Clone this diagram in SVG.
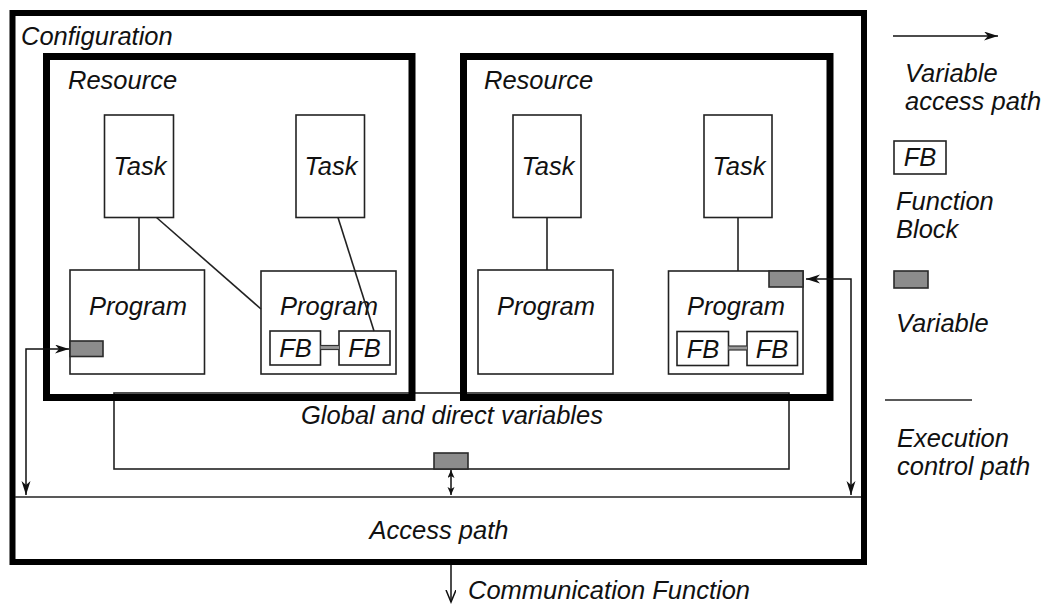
<svg xmlns="http://www.w3.org/2000/svg" width="1043" height="604" viewBox="0 0 1043 604">
<style>
text{font-family:"Liberation Sans",Arial,sans-serif;font-style:italic;font-size:25.5px;fill:#111}
.mid{text-anchor:middle}
.thick{fill:none;stroke:#000}
.box{fill:#fff;stroke:#222;stroke-width:1.6}
.var{fill:#8c8c8c;stroke:#2a2a2a;stroke-width:1.6}
.line{fill:none;stroke:#222;stroke-width:1.6}
.arr{fill:none;stroke:#111;stroke-width:1.5}
</style>
<defs>
<marker id="barb" markerUnits="userSpaceOnUse" markerWidth="16" markerHeight="12" refX="14" refY="4.5" orient="auto-start-reverse">
<path d="M0,0 L14,4.5 L0,9 L4,4.5 Z" fill="#111"/>
</marker>
<marker id="small" markerUnits="userSpaceOnUse" markerWidth="10" markerHeight="8" refX="8" refY="3.5" orient="auto-start-reverse">
<path d="M0,0 L8,3.5 L0,7 L2,3.5 Z" fill="#111"/>
</marker>
<marker id="open" markerUnits="userSpaceOnUse" markerWidth="14" markerHeight="12" refX="12" refY="5" orient="auto">
<path d="M0,0 L12,5 L0,10" fill="none" stroke="#111" stroke-width="1.5"/>
</marker>
</defs>

<g id="configuration">
<rect class="thick" x="12.5" y="13" width="851.5" height="549" stroke-width="6"/>
<text x="21" y="45">Configuration</text>
</g>

<g id="global-variables">
<rect class="box" x="114" y="393" width="675" height="76"/>
<text class="mid" x="452" y="424">Global and direct variables</text>
</g>

<g id="resource-1">
<rect class="thick" x="46.5" y="56.5" width="365.5" height="341" stroke-width="7"/>
<text x="68" y="89">Resource</text>
</g>

<g id="resource-2">
<rect class="thick" x="463.5" y="56.5" width="366.5" height="341" stroke-width="7"/>
<text x="484" y="89">Resource</text>
</g>

<g id="access-path">
<line class="line" x1="15" y1="497" x2="861" y2="497"/>
<text class="mid" x="439" y="539">Access path</text>
</g>

<g id="r1-task-1">
<rect class="box" x="104.5" y="115" width="69" height="102.5"/>
<text class="mid" x="140" y="175">Task</text>
</g>
<g id="r1-task-2">
<rect class="box" x="296" y="115" width="68.5" height="102.5"/>
<text class="mid" x="331" y="175">Task</text>
</g>
<g id="r2-task-1">
<rect class="box" x="513" y="115" width="68" height="102.5"/>
<text class="mid" x="548" y="175">Task</text>
</g>
<g id="r2-task-2">
<rect class="box" x="704" y="115" width="68" height="102.5"/>
<text class="mid" x="739" y="175">Task</text>
</g>

<g id="r1-program-1">
<rect class="box" x="70" y="270" width="134.5" height="104"/>
<text class="mid" x="138" y="315">Program</text>
</g>
<g id="r1-program-1-var">
<rect class="var" x="70" y="341" width="33" height="15.5"/>
</g>

<g id="r1-program-2">
<rect class="box" x="261" y="271" width="135" height="103"/>
<text class="mid" x="329" y="315">Program</text>
</g>
<g id="r1-fb-1">
<rect class="box" x="270" y="331" width="50.5" height="34"/>
<text class="mid" x="295.5" y="357">FB</text>
</g>
<g id="r1-fb-2">
<rect class="box" x="339" y="331" width="51" height="34"/>
<text class="mid" x="364.5" y="357">FB</text>
</g>

<g id="r2-program-1">
<rect class="box" x="478" y="270" width="135" height="104"/>
<text class="mid" x="546" y="315">Program</text>
</g>

<g id="r2-program-2">
<rect class="box" x="668.5" y="271" width="134.5" height="103"/>
<text class="mid" x="736" y="315">Program</text>
</g>
<g id="r2-program-2-var">
<rect class="var" x="769" y="271" width="34" height="16"/>
</g>
<g id="r2-fb-1">
<rect class="box" x="677" y="331.5" width="51.5" height="34"/>
<text class="mid" x="703" y="357.5">FB</text>
</g>
<g id="r2-fb-2">
<rect class="box" x="747" y="331.5" width="50.5" height="34"/>
<text class="mid" x="772" y="357.5">FB</text>
</g>

<g id="global-var">
<rect class="var" x="434" y="453" width="34" height="16"/>
</g>

<g id="communication-function">
<text x="468" y="599">Communication Function</text>
</g>

<g id="connectors">
<line class="line" x1="139" y1="217.5" x2="139" y2="270"/>
<line class="line" x1="156.5" y1="217.5" x2="261" y2="309"/>
<line class="line" x1="338" y1="217.5" x2="374" y2="331"/>
<line class="line" x1="547" y1="217.5" x2="547" y2="270"/>
<line class="line" x1="738" y1="217.5" x2="738" y2="271"/>
<rect x="320.5" y="345.5" width="18.5" height="4" fill="#999"/>
<line x1="320.5" y1="345.5" x2="339" y2="345.5" stroke="#333" stroke-width="1.2"/>
<line x1="320.5" y1="349.5" x2="339" y2="349.5" stroke="#333" stroke-width="1.2"/>
<rect x="728.5" y="346" width="18.5" height="4" fill="#999"/>
<line x1="728.5" y1="346" x2="747" y2="346" stroke="#333" stroke-width="1.2"/>
<line x1="728.5" y1="350" x2="747" y2="350" stroke="#333" stroke-width="1.2"/>
<path class="arr" d="M69,349 H26 V495" marker-start="url(#barb)" marker-end="url(#barb)"/>
<path class="arr" d="M806,279 H851 V495" marker-start="url(#barb)" marker-end="url(#barb)"/>
<path class="arr" d="M451,470 V495" marker-start="url(#small)" marker-end="url(#small)"/>
<path class="arr" d="M451,565 V602" marker-end="url(#open)"/>
</g>

<g id="legend-variable-access">
<path class="arr" d="M893,36 H998" marker-end="url(#barb)"/>
<text x="905" y="82">Variable</text>
<text x="905" y="110">access path</text>
</g>
<g id="legend-fb">
<rect class="box" x="894" y="141" width="52" height="33"/>
<text class="mid" x="920" y="166">FB</text>
<text x="896" y="210">Function</text>
<text x="896" y="238">Block</text>
</g>
<g id="legend-variable">
<rect class="var" x="894" y="271" width="34" height="17"/>
<text x="896" y="332">Variable</text>
</g>
<g id="legend-execution">
<line class="line" x1="885" y1="400" x2="972" y2="400"/>
<text x="897" y="447">Execution</text>
<text x="897" y="475">control path</text>
</g>
</svg>
